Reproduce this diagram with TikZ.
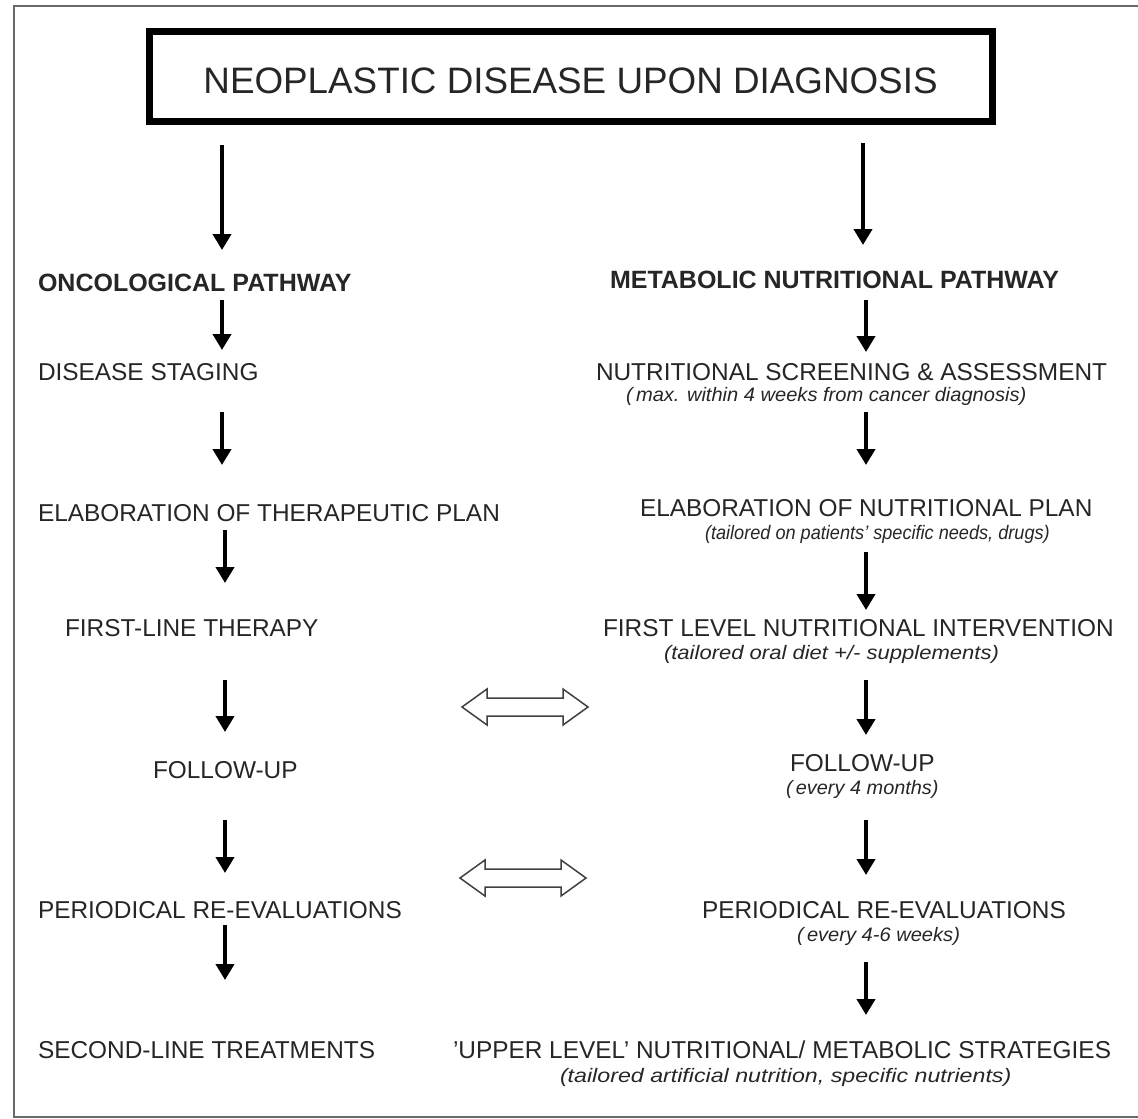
\documentclass[tikz,border=0pt]{standalone}
\usepackage{graphicx}
\usepackage{fontspec}
\setmainfont{Liberation Sans}
\usetikzlibrary{arrows.meta}
\definecolor{ink}{HTML}{262626}
\definecolor{framegray}{HTML}{6A6A6A}
\begin{document}
\begin{tikzpicture}[x=1pt,y=-1pt,
  stage/.style={font=\fontsize{24.4}{28}\selectfont, text=ink, inner sep=0pt,
    outer sep=0pt, text height=17.6pt, text depth=0pt, anchor=west},
  head/.style={stage, font=\bfseries\fontsize{25}{28}\selectfont},
  note/.style={font=\itshape\fontsize{19.5}{22}\selectfont, text=ink, inner sep=0pt,
    outer sep=0pt, text height=14pt, text depth=4.1pt, anchor=west},
  flow/.style={draw=black, line width=4.5pt, -{Triangle[width=18pt,length=16pt]}},
  gap/.style 2 args={shorten <=#1pt, shorten >=#2pt},
  link/.style={draw=black!75, line width=1.5pt, fill=white, line join=miter}]

% page and frame
\useasboundingbox (0,0) rectangle (1138,1119);
\fill[white] (0,0) rectangle (1138,1119);
\draw[framegray, line width=2pt] (1140,6) -- (14,6) -- (14,1117) -- (1140,1117);

% title box
\node[draw=black, line width=7pt, inner sep=0pt, outer sep=0pt,
      minimum width=843pt, minimum height=90pt,
      font=\fontsize{36.8}{42}\selectfont, text=ink,
      text height=34.5pt, text depth=0pt] (title) at (570.5,76)
      {NEOPLASTIC DISEASE UPON DIAGNOSIS};

% arrow columns
\coordinate (La) at (222,0);
\coordinate (Lb) at (225,0);
\coordinate (Ra) at (863,0);
\coordinate (Rb) at (866,0);

% oncological pathway
\node[head]  (onc) at (38,283)  {ONCOLOGICAL PATHWAY};
\node[stage] (ds)  at (38,372)  {DISEASE STAGING};
\node[stage] (ep)  at (38,513)  {ELABORATION OF THERAPEUTIC PLAN};
\node[stage] (flt) at (65,628)  {FIRST-LINE THERAPY};
\node[stage] (fu)  at (153,770) {FOLLOW-UP};
\node[stage] (pre) at (38,910)  {PERIODICAL RE-EVALUATIONS};
\node[stage] (slt) at (38,1050) {SECOND-LINE TREATMENTS};

% metabolic nutritional pathway
\node[head]  (mnp)   at (610,280) {METABOLIC NUTRITIONAL PATHWAY};
\node[stage] (nsa)   at (596,372) {NUTRITIONAL SCREENING \& ASSESSMENT};
\node[note]  (nsas)  at (626,397) {\scalebox{1.03}[1]{(\,max. within 4 weeks from cancer diagnosis)}};
\node[stage] (enp)   at (640,508) {ELABORATION OF NUTRITIONAL PLAN};
\node[note]  (enps)  at (705,535) {\scalebox{0.93}[1]{(tailored on patients' specific needs, drugs)}};
\node[stage] (fli)   at (603,628) {FIRST LEVEL NUTRITIONAL INTERVENTION};
\node[note]  (flis)  at (664,655) {\scalebox{1.13}[1]{(tailored oral diet +/- supplements)}};
\node[stage] (rfu)   at (790,763) {FOLLOW-UP};
\node[note]  (rfus)  at (786,790) {\scalebox{1.02}[1]{(\,every 4 months)}};
\node[stage] (rpre)  at (702,910) {PERIODICAL RE-EVALUATIONS};
\node[note]  (rpres) at (797,937) {\scalebox{1.03}[1]{(\,every 4-6 weeks)}};
\node[stage] (uls)   at (453,1050) {'UPPER LEVEL' NUTRITIONAL/ METABOLIC STRATEGIES};
\node[note]  (ulss)  at (560,1078) {\scalebox{1.19}[1]{(tailored artificial nutrition, specific nutrients)}};

% left column arrows
\draw[flow, gap={24}{24.2}] (title.south -| La) -- (onc.north -| La);
\draw[flow, gap={8.2}{13.2}] (onc.south -| La) -- (ds.north -| La);
\draw[flow, gap={31.2}{39.2}] (ds.south -| La) -- (ep.north -| La);
\draw[flow, gap={8.2}{36.2}] (ep.south -| Lb) -- (flt.north -| Lb);
\draw[flow, gap={43.2}{29.2}] (flt.south -| Lb) -- (fu.north -| Lb);
\draw[flow, gap={41.2}{28.2}] (fu.south -| Lb) -- (pre.north -| Lb);
\draw[flow, gap={6.2}{61.2}] (pre.south -| Lb) -- (slt.north -| Lb);

% right column arrows
\draw[flow, gap={22}{26.2}] (title.south -| Ra) -- (mnp.north -| Ra);
\draw[flow, gap={11.2}{11.2}] (mnp.south -| Rb) -- (nsa.north -| Rb);
\draw[flow, gap={6}{34.2}] (nsas.south -| Rb) -- (enp.north -| Rb);
\draw[flow, gap={8}{9.2}] (enps.south -| Rb) -- (fli.north -| Rb);
\draw[flow, gap={16}{19.2}] (flis.south -| Rb) -- (rfu.north -| Rb);
\draw[flow, gap={21}{26.2}] (rfus.south -| Rb) -- (rpre.north -| Rb);
\draw[flow, gap={16}{26.2}] (rpres.south -| Rb) -- (uls.north -| Rb);

% two-way exchange between the pathways
\draw[link] (462,707) -- ++(25,-18) -- ++(0,9) -- ++(76,0) -- ++(0,-9)
  -- ++(25,18) -- ++(-25,18) -- ++(0,-9) -- ++(-76,0) -- ++(0,9) -- cycle;
\draw[link] (460,878) -- ++(25,-18) -- ++(0,9) -- ++(76,0) -- ++(0,-9)
  -- ++(25,18) -- ++(-25,18) -- ++(0,-9) -- ++(-76,0) -- ++(0,9) -- cycle;
\end{tikzpicture}
\end{document}
